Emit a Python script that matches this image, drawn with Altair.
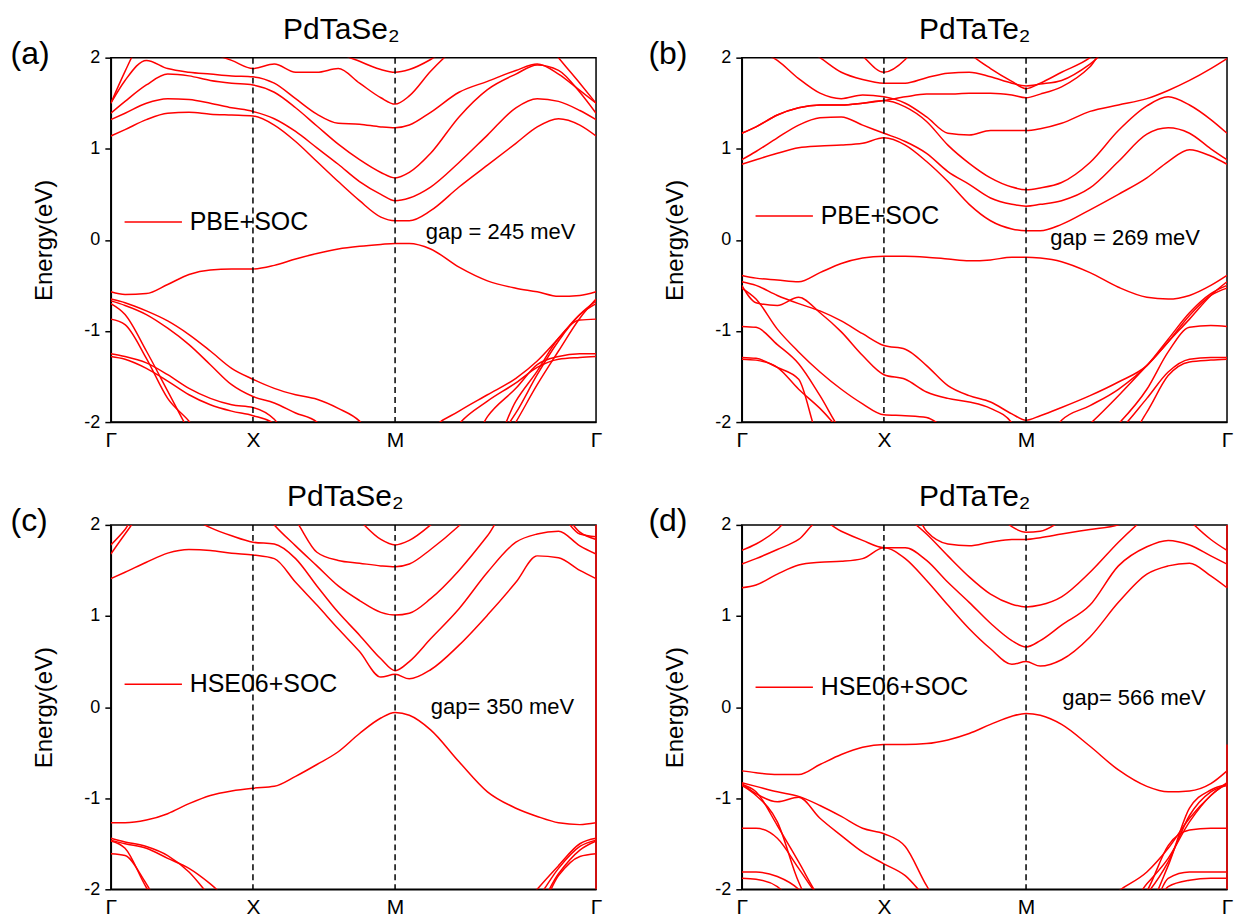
import altair as alt
import pandas as pd

FONT = "Liberation Sans"

# k-path positions (Gamma=0, X=1, M=2, Gamma=2+sqrt2)
K_PTS = [0.0, 0.1, 0.25, 0.4, 0.55, 0.7, 0.85, 1.0, 1.15, 1.3, 1.45, 1.6,
         1.75, 1.9, 2.0, 2.1, 2.25, 2.45, 2.65, 2.85, 3.0, 3.15, 3.3, 3.414]
K_TICKS = [0.0, 1.0, 2.0, 3.414]
K_DASHED = [1.0, 2.0]
K_END = 3.414
E_TICKS = [-2, -1, 0, 1, 2]

# ---------------- (a) PdTaSe2, PBE+SOC ----------------
A_C1 = [1.14, 1.21, 1.32, 1.39, 1.40, 1.38, 1.37, 1.36, 1.26, 1.08, 0.86, 0.64, 0.43, 0.25, 0.21, 0.21, 0.32, 0.58, 0.82, 1.06, 1.24, 1.33, 1.26, 1.14]
A_C2 = [1.32, 1.39, 1.50, 1.55, 1.54, 1.50, 1.45, 1.41, 1.33, 1.19, 1.01, 0.83, 0.64, 0.50, 0.43, 0.46, 0.58, 0.85, 1.15, 1.45, 1.55, 1.52, 1.42, 1.32]
A_C3 = [1.39, 1.52, 1.70, 1.82, 1.80, 1.75, 1.72, 1.70, 1.62, 1.45, 1.25, 1.05, 0.88, 0.74, 0.68, 0.74, 0.95, 1.35, 1.65, 1.82, 1.92, 1.86, 1.62, 1.39]
A_C4 = [1.50, 1.75, 1.97, 1.88, 1.84, 1.82, 1.80, 1.79, 1.72, 1.55, 1.38, 1.28, 1.27, 1.24, 1.23, 1.26, 1.40, 1.62, 1.74, 1.86, 1.93, 1.82, 1.64, 1.50]
A_C5 = [2.50, 2.40, 2.30, 2.20, 2.12, 2.05, 1.97, 1.88, 1.93, 1.84, 1.84, 1.88, 1.72, 1.56, 1.49, 1.58, 1.85, 2.15, 2.40, 2.50, 2.50, 2.50, 2.50, 2.50]
A_C6 = [1.50, 1.85, 2.30, 2.50, 2.50, 2.50, 2.50, 2.50, 2.50, 2.50, 2.50, 2.50, 2.50, 2.50, 2.50, 2.50, 2.50, 2.50, 2.50, 2.50, 2.30, 2.00, 1.72, 1.50]
A_C7 = [2.50, 2.50, 2.50, 2.50, 2.50, 2.50, 2.50, 2.50, 2.50, 2.50, 2.50, 2.08, 1.96, 1.87, 1.84, 1.87, 1.98, 2.20, 2.50, 2.50, 2.50, 2.50, 2.50, 2.50]
A_V1 = [-0.57, -0.60, -0.59, -0.49, -0.38, -0.33, -0.32, -0.32, -0.28, -0.21, -0.15, -0.10, -0.07, -0.05, -0.04, -0.04, -0.10, -0.30, -0.45, -0.53, -0.57, -0.62, -0.61, -0.57]
A_V2 = [-0.65, -0.69, -0.78, -0.89, -1.04, -1.22, -1.41, -1.53, -1.63, -1.70, -1.75, -1.85, -1.99, -2.30, -2.50, -2.50, -2.50, -2.50, -2.50, -2.00, -1.59, -1.22, -0.86, -0.65]
A_V3 = [-0.67, -0.72, -0.82, -0.97, -1.15, -1.37, -1.59, -1.72, -1.79, -1.90, -2.00, -2.30, -2.50, -2.50, -2.50, -2.50, -2.50, -2.50, -2.30, -1.90, -1.48, -1.11, -0.82, -0.67]
A_V4 = [-0.70, -0.82, -1.22, -1.66, -2.10, -2.50, -2.50, -2.50, -2.50, -2.50, -2.50, -2.50, -2.50, -2.50, -2.50, -2.50, -2.10, -1.88, -1.70, -1.52, -1.33, -1.08, -0.82, -0.70]
A_V5 = [-0.87, -0.93, -1.30, -1.74, -1.99, -2.30, -2.50, -2.50, -2.50, -2.50, -2.50, -2.50, -2.50, -2.50, -2.50, -2.50, -2.50, -2.50, -2.40, -1.77, -1.44, -1.08, -0.88, -0.87]
A_V6 = [-1.25, -1.28, -1.35, -1.48, -1.63, -1.74, -1.81, -1.84, -1.97, -2.30, -2.50, -2.50, -2.50, -2.50, -2.50, -2.50, -2.50, -2.50, -1.94, -1.63, -1.37, -1.28, -1.25, -1.25]
A_V7 = [-1.28, -1.31, -1.41, -1.55, -1.70, -1.81, -1.88, -1.93, -2.02, -2.30, -2.50, -2.50, -2.50, -2.50, -2.50, -2.50, -2.50, -2.02, -1.77, -1.57, -1.40, -1.31, -1.29, -1.28]

# ---------------- (b) PdTaTe2, PBE+SOC ----------------
B_C1 = [0.83, 0.88, 0.95, 1.01, 1.03, 1.04, 1.06, 1.12, 1.04, 0.86, 0.64, 0.39, 0.21, 0.12, 0.10, 0.10, 0.17, 0.33, 0.50, 0.68, 0.86, 0.99, 0.92, 0.83]
B_C2 = [0.88, 0.97, 1.12, 1.26, 1.34, 1.35, 1.26, 1.17, 1.08, 0.95, 0.75, 0.61, 0.46, 0.39, 0.37, 0.39, 0.43, 0.57, 0.86, 1.16, 1.23, 1.17, 1.00, 0.88]
B_C3 = [1.17, 1.24, 1.37, 1.45, 1.48, 1.48, 1.50, 1.53, 1.46, 1.30, 1.04, 0.84, 0.68, 0.58, 0.55, 0.57, 0.63, 0.85, 1.20, 1.47, 1.57, 1.48, 1.32, 1.17]
B_C4 = [2.20, 2.10, 1.97, 1.77, 1.61, 1.55, 1.59, 1.57, 1.50, 1.35, 1.17, 1.15, 1.20, 1.20, 1.20, 1.22, 1.28, 1.41, 1.48, 1.55, 1.64, 1.75, 1.88, 1.99]
B_C5 = [2.30, 2.30, 2.30, 2.15, 2.00, 1.84, 1.76, 1.72, 1.72, 1.78, 1.83, 1.84, 1.79, 1.72, 1.69, 1.71, 1.75, 1.93, 2.20, 2.30, 2.30, 2.30, 2.30, 2.30]
B_C6 = [2.30, 2.30, 2.30, 2.30, 2.30, 2.30, 2.02, 1.84, 1.98, 2.30, 2.30, 2.30, 2.30, 2.30, 2.30, 2.30, 2.30, 2.30, 2.30, 2.30, 2.30, 2.30, 2.30, 2.30]
B_C7 = [1.17, 1.24, 1.37, 1.45, 1.48, 1.48, 1.50, 1.53, 1.57, 1.60, 1.60, 1.61, 1.61, 1.59, 1.56, 1.60, 1.68, 1.90, 2.30, 2.30, 2.30, 2.30, 2.30, 2.30]
B_C8 = [2.30, 2.30, 2.30, 2.30, 2.30, 2.30, 2.30, 2.30, 2.30, 2.30, 2.30, 2.05, 1.88, 1.74, 1.66, 1.72, 1.84, 2.00, 2.30, 2.30, 2.30, 2.30, 2.30, 2.30]
B_V1 = [-0.39, -0.42, -0.44, -0.46, -0.36, -0.26, -0.20, -0.18, -0.18, -0.19, -0.21, -0.23, -0.22, -0.19, -0.19, -0.20, -0.24, -0.36, -0.52, -0.63, -0.65, -0.61, -0.50, -0.39]
B_V2 = [-0.46, -0.50, -0.61, -0.70, -0.78, -0.89, -1.03, -1.16, -1.20, -1.38, -1.60, -1.71, -1.78, -1.91, -1.98, -1.93, -1.84, -1.71, -1.56, -1.38, -1.12, -0.87, -0.61, -0.46]
B_V3 = [-0.50, -0.69, -0.72, -0.63, -0.80, -1.01, -1.27, -1.48, -1.53, -1.67, -1.74, -1.78, -1.85, -2.01, -2.30, -2.30, -1.98, -1.82, -1.64, -1.38, -1.09, -0.80, -0.59, -0.50]
B_V4 = [-0.53, -0.65, -0.98, -1.23, -1.45, -1.64, -1.80, -1.92, -1.93, -1.95, -2.10, -2.30, -2.30, -2.30, -2.30, -2.30, -2.30, -2.02, -1.71, -1.38, -1.12, -0.83, -0.61, -0.53]
B_V5 = [-0.95, -0.96, -1.15, -1.36, -1.71, -2.10, -2.30, -2.30, -2.30, -2.30, -2.30, -2.30, -2.30, -2.30, -2.30, -2.30, -2.30, -2.30, -2.02, -1.64, -1.23, -0.96, -0.94, -0.95]
B_V6 = [-1.29, -1.30, -1.40, -1.53, -2.20, -2.30, -2.30, -2.30, -2.30, -2.30, -2.30, -2.30, -2.30, -2.30, -2.30, -2.30, -2.30, -2.30, -2.10, -1.74, -1.45, -1.31, -1.29, -1.29]
B_V7 = [-1.31, -1.32, -1.40, -1.64, -1.85, -2.10, -2.30, -2.30, -2.30, -2.30, -2.30, -2.30, -2.30, -2.30, -2.30, -2.30, -2.30, -2.30, -2.30, -1.89, -1.49, -1.34, -1.32, -1.31]

# ---------------- (c) PdTaSe2, HSE06+SOC ----------------
C_C1 = [1.41, 1.48, 1.59, 1.69, 1.73, 1.72, 1.69, 1.67, 1.63, 1.37, 1.12, 0.86, 0.61, 0.33, 0.36, 0.31, 0.41, 0.68, 1.01, 1.37, 1.66, 1.64, 1.50, 1.41]
C_C2 = [2.30, 2.30, 2.30, 2.30, 2.10, 1.97, 1.88, 1.81, 1.79, 1.63, 1.33, 1.04, 0.79, 0.53, 0.40, 0.50, 0.75, 1.08, 1.48, 1.81, 1.90, 1.93, 1.77, 1.68]
C_C3 = [2.30, 2.30, 2.30, 2.30, 2.30, 2.30, 2.30, 2.30, 2.00, 1.77, 1.55, 1.33, 1.17, 1.04, 1.01, 1.03, 1.19, 1.50, 1.88, 2.30, 2.30, 2.30, 2.30, 2.30]
C_C4 = [2.30, 2.30, 2.30, 2.30, 2.30, 2.30, 2.30, 2.30, 2.30, 2.05, 1.70, 1.61, 1.58, 1.55, 1.54, 1.57, 1.73, 1.99, 2.30, 2.30, 2.30, 2.30, 2.30, 2.30]
C_C5 = [2.30, 2.30, 2.30, 2.30, 2.30, 2.30, 2.30, 2.30, 2.30, 2.30, 2.30, 2.30, 2.05, 1.84, 1.78, 1.83, 2.00, 2.30, 2.30, 2.30, 2.30, 2.30, 2.30, 2.30]
C_C6 = [1.68, 1.90, 2.20, 2.30, 2.30, 2.30, 2.30, 2.30, 2.30, 2.30, 2.30, 2.30, 2.30, 2.30, 2.30, 2.30, 2.30, 2.30, 2.30, 2.30, 2.30, 2.20, 1.92, 1.84]
C_C7 = [1.78, 1.95, 2.30, 2.30, 2.30, 2.30, 2.30, 2.30, 2.30, 2.30, 2.30, 2.30, 2.30, 2.30, 2.30, 2.30, 2.30, 2.30, 2.30, 2.30, 2.30, 2.15, 1.90, 1.87]
C_V1 = [-1.27, -1.27, -1.24, -1.17, -1.06, -0.97, -0.92, -0.89, -0.87, -0.76, -0.63, -0.49, -0.29, -0.12, -0.06, -0.09, -0.25, -0.60, -0.93, -1.11, -1.20, -1.27, -1.29, -1.27]
C_V2 = [-1.44, -1.48, -1.53, -1.63, -1.81, -2.08, -2.30, -2.30, -2.30, -2.30, -2.30, -2.30, -2.30, -2.30, -2.30, -2.30, -2.30, -2.30, -2.30, -2.30, -2.00, -1.74, -1.50, -1.44]
C_V3 = [-1.46, -1.50, -1.55, -1.66, -1.77, -1.94, -2.15, -2.30, -2.30, -2.30, -2.30, -2.30, -2.30, -2.30, -2.30, -2.30, -2.30, -2.30, -2.30, -2.30, -2.10, -1.77, -1.53, -1.46]
C_V4 = [-1.47, -1.55, -1.98, -2.30, -2.30, -2.30, -2.30, -2.30, -2.30, -2.30, -2.30, -2.30, -2.30, -2.30, -2.30, -2.30, -2.30, -2.30, -2.30, -2.30, -2.20, -1.83, -1.57, -1.47]
C_V5 = [-1.61, -1.63, -1.94, -2.30, -2.30, -2.30, -2.30, -2.30, -2.30, -2.30, -2.30, -2.30, -2.30, -2.30, -2.30, -2.30, -2.30, -2.30, -2.30, -2.30, -2.25, -1.85, -1.64, -1.61]
C_EDGE_LO = [-2.0]
C_EDGE_HI = [2.0]

# ---------------- (d) PdTaTe2, HSE06+SOC ----------------
D_C1 = [1.31, 1.34, 1.46, 1.56, 1.59, 1.60, 1.63, 1.75, 1.63, 1.39, 1.12, 0.86, 0.64, 0.47, 0.50, 0.45, 0.52, 0.77, 1.15, 1.46, 1.55, 1.58, 1.44, 1.31]
D_C2 = [1.57, 1.63, 1.73, 1.84, 2.05, 1.93, 1.83, 1.75, 1.75, 1.61, 1.37, 1.15, 0.92, 0.73, 0.66, 0.73, 0.90, 1.12, 1.55, 1.76, 1.83, 1.78, 1.66, 1.57]
D_C3 = [1.72, 1.79, 1.95, 2.20, 2.30, 2.30, 2.30, 2.30, 2.10, 1.90, 1.66, 1.43, 1.24, 1.13, 1.10, 1.12, 1.21, 1.48, 1.81, 2.10, 2.30, 2.05, 1.84, 1.72]
D_C4 = [2.30, 2.30, 2.30, 2.30, 2.30, 2.30, 2.30, 2.30, 2.30, 1.93, 1.79, 1.77, 1.81, 1.84, 1.84, 1.86, 1.90, 1.95, 2.00, 2.20, 2.30, 2.30, 2.30, 2.30]
D_C5 = [2.30, 2.30, 2.30, 2.30, 2.30, 2.30, 2.30, 2.30, 2.30, 2.30, 2.30, 2.30, 2.20, 1.98, 1.92, 1.93, 2.05, 2.30, 2.30, 2.30, 2.30, 2.30, 2.30, 2.30]
D_V1 = [-0.70, -0.72, -0.74, -0.74, -0.63, -0.52, -0.44, -0.41, -0.41, -0.40, -0.36, -0.29, -0.19, -0.10, -0.07, -0.09, -0.19, -0.43, -0.69, -0.87, -0.93, -0.92, -0.84, -0.70]
D_V2 = [-0.83, -0.87, -0.93, -0.98, -1.08, -1.20, -1.33, -1.39, -1.53, -1.96, -2.30, -2.30, -2.30, -2.30, -2.30, -2.30, -2.30, -2.30, -2.02, -1.81, -1.55, -1.22, -0.97, -0.83]
D_V3 = [-0.84, -0.95, -1.04, -0.99, -1.22, -1.41, -1.59, -1.72, -1.85, -2.10, -2.30, -2.30, -2.30, -2.30, -2.30, -2.30, -2.30, -2.30, -2.30, -1.94, -1.66, -1.26, -0.97, -0.84]
D_V4 = [-0.86, -0.97, -1.26, -1.92, -2.30, -2.30, -2.30, -2.30, -2.30, -2.30, -2.30, -2.30, -2.30, -2.30, -2.30, -2.30, -2.30, -2.30, -2.30, -2.05, -1.70, -1.19, -0.93, -0.86]
D_V5 = [-0.85, -0.93, -1.30, -1.70, -2.10, -2.30, -2.30, -2.30, -2.30, -2.30, -2.30, -2.30, -2.30, -2.30, -2.30, -2.30, -2.30, -2.30, -2.30, -2.20, -1.74, -1.11, -0.91, -0.85]
D_V6 = [-1.33, -1.33, -1.44, -1.77, -2.10, -2.30, -2.30, -2.30, -2.30, -2.30, -2.30, -2.30, -2.30, -2.30, -2.30, -2.30, -2.30, -2.30, -2.30, -2.02, -1.52, -1.35, -1.33, -1.33]
D_V7 = [-1.81, -1.81, -1.86, -2.00, -2.30, -2.30, -2.30, -2.30, -2.30, -2.30, -2.30, -2.30, -2.30, -2.30, -2.30, -2.30, -2.30, -2.30, -2.30, -2.30, -1.88, -1.81, -1.81, -1.81]
D_V8 = [-1.88, -1.89, -1.97, -2.20, -2.30, -2.30, -2.30, -2.30, -2.30, -2.30, -2.30, -2.30, -2.30, -2.30, -2.30, -2.30, -2.30, -2.30, -2.30, -2.30, -1.97, -1.90, -1.88, -1.88]
D_EDGE_LO = [-2.0, 1.31]
D_EDGE_HI = [-0.41, 2.0]

PANEL_W = 486
PANEL_H = 365


def text_layer(label, x, y, size, baseline):
    return alt.Chart(pd.DataFrame({"t": [label]})).mark_text(
        align="left", baseline=baseline, fontSize=size, font=FONT, color="black").encode(
        x=alt.value(x), y=alt.value(y), text="t:N")


def panel(bands, method, title, title_x, tag, tag_x, gap_text, gap_x, gap_y, leg_y,
          edge_lo=None, edge_hi=None):
    rows = []
    for i, band in enumerate(bands):
        for k, e in zip(K_PTS, band):
            rows.append({"k": k, "E": e, "band": i, "method": method})
    df = pd.DataFrame(rows)

    x_axis = alt.Axis(values=K_TICKS, title=None, grid=False, ticks=False, tickSize=0,
                      labelExpr="datum.value == 1 ? 'X' : (datum.value == 2 ? 'M' : 'Γ')",
                      labelFontSize=21, labelFont=FONT, labelColor="black", labelPadding=7,
                      labelFlush=False, labelOverlap=False, domainColor="black", domainWidth=1.5)
    y_axis = alt.Axis(values=E_TICKS, title="Energy(eV)", grid=False,
                      labelExpr="'' + datum.value", labelFontSize=18, labelFont=FONT,
                      labelColor="black", labelPadding=5, labelFlush=False,
                      tickSize=6, tickColor="black", tickWidth=1.5,
                      domainColor="black", domainWidth=1.5,
                      titleFontSize=24, titleFont=FONT, titleFontWeight="normal",
                      titleColor="black", titlePadding=27)

    lines = alt.Chart(df).mark_line(clip=True, interpolate="monotone", strokeWidth=1.5).encode(
        x=alt.X("k:Q", scale=alt.Scale(domain=[0, K_END], nice=False, zero=False), axis=x_axis),
        y=alt.Y("E:Q", scale=alt.Scale(domain=[-2, 2], nice=False, zero=False), axis=y_axis),
        detail="band:N",
        color=alt.Color("method:N",
                        scale=alt.Scale(domain=[method], range=["#ff0000"]),
                        legend=alt.Legend(orient="none", legendX=13, legendY=leg_y, title=None,
                                          labelFontSize=25, labelFont=FONT, labelColor="black",
                                          symbolType="stroke", symbolSize=3300,
                                          symbolStrokeWidth=1.5, labelOffset=7, padding=0)),
    )
    dashed = alt.Chart(pd.DataFrame({"k": K_DASHED})).mark_rule(
        color="black", strokeDash=[6, 4], strokeWidth=1.5).encode(x="k:Q")
    layers = [lines, dashed]
    if edge_lo:
        edge_df = pd.DataFrame({"k": [K_END] * len(edge_lo), "lo": edge_lo, "hi": edge_hi})
        layers.append(alt.Chart(edge_df).mark_rule(color="#ff0000", strokeWidth=1.5).encode(
            x="k:Q", y="lo:Q", y2="hi:Q"))
    layers += [
        text_layer(gap_text, gap_x, gap_y, 22, "middle"),
        text_layer(tag, tag_x, 6, 32, "alphabetic"),
        text_layer(title, title_x, -19, 30, "alphabetic"),
    ]
    return alt.layer(*layers).properties(width=PANEL_W, height=PANEL_H)


pa = panel([A_C1, A_C2, A_C3, A_C4, A_C5, A_C6, A_C7, A_V1, A_V2, A_V3, A_V4, A_V5, A_V6, A_V7],
           "PBE+SOC", "PdTaSe₂", 172.5, "(a)", -100.5, "gap = 245 meV", 315.5, 175, 135)
pb = panel([B_C1, B_C2, B_C3, B_C4, B_C5, B_C6, B_C7, B_C8, B_V1, B_V2, B_V3, B_V4, B_V5, B_V6, B_V7],
           "PBE+SOC", "PdTaTe₂", 177.5, "(b)", -93.5, "gap = 269 meV", 309, 181, 129)
pc = panel([C_C1, C_C2, C_C3, C_C4, C_C5, C_C6, C_C7, C_V1, C_V2, C_V3, C_V4, C_V5],
           "HSE06+SOC", "PdTaSe₂", 176.5, "(c)", -100.5, "gap= 350 meV", 320.5, 182, 130,
           C_EDGE_LO, C_EDGE_HI)
pd_ = panel([D_C1, D_C2, D_C3, D_C4, D_C5, D_V1, D_V2, D_V3, D_V4, D_V5, D_V6, D_V7, D_V8],
            "HSE06+SOC", "PdTaTe₂", 177.5, "(d)", -93.5, "gap= 566 meV", 321, 173, 133,
            D_EDGE_LO, D_EDGE_HI)

chart = alt.concat(pa, pb, pc, pd_, columns=2, spacing={"row": 103, "column": 146},
                   bounds="flush").resolve_scale(color="independent").properties(
    padding={"left": 1, "top": 5, "right": 0, "bottom": 0}
).configure(font=FONT, background="white").configure_view(stroke="black", strokeWidth=1.5)

chart.save("out.html", embed_options={"renderer": "svg", "actions": False})
